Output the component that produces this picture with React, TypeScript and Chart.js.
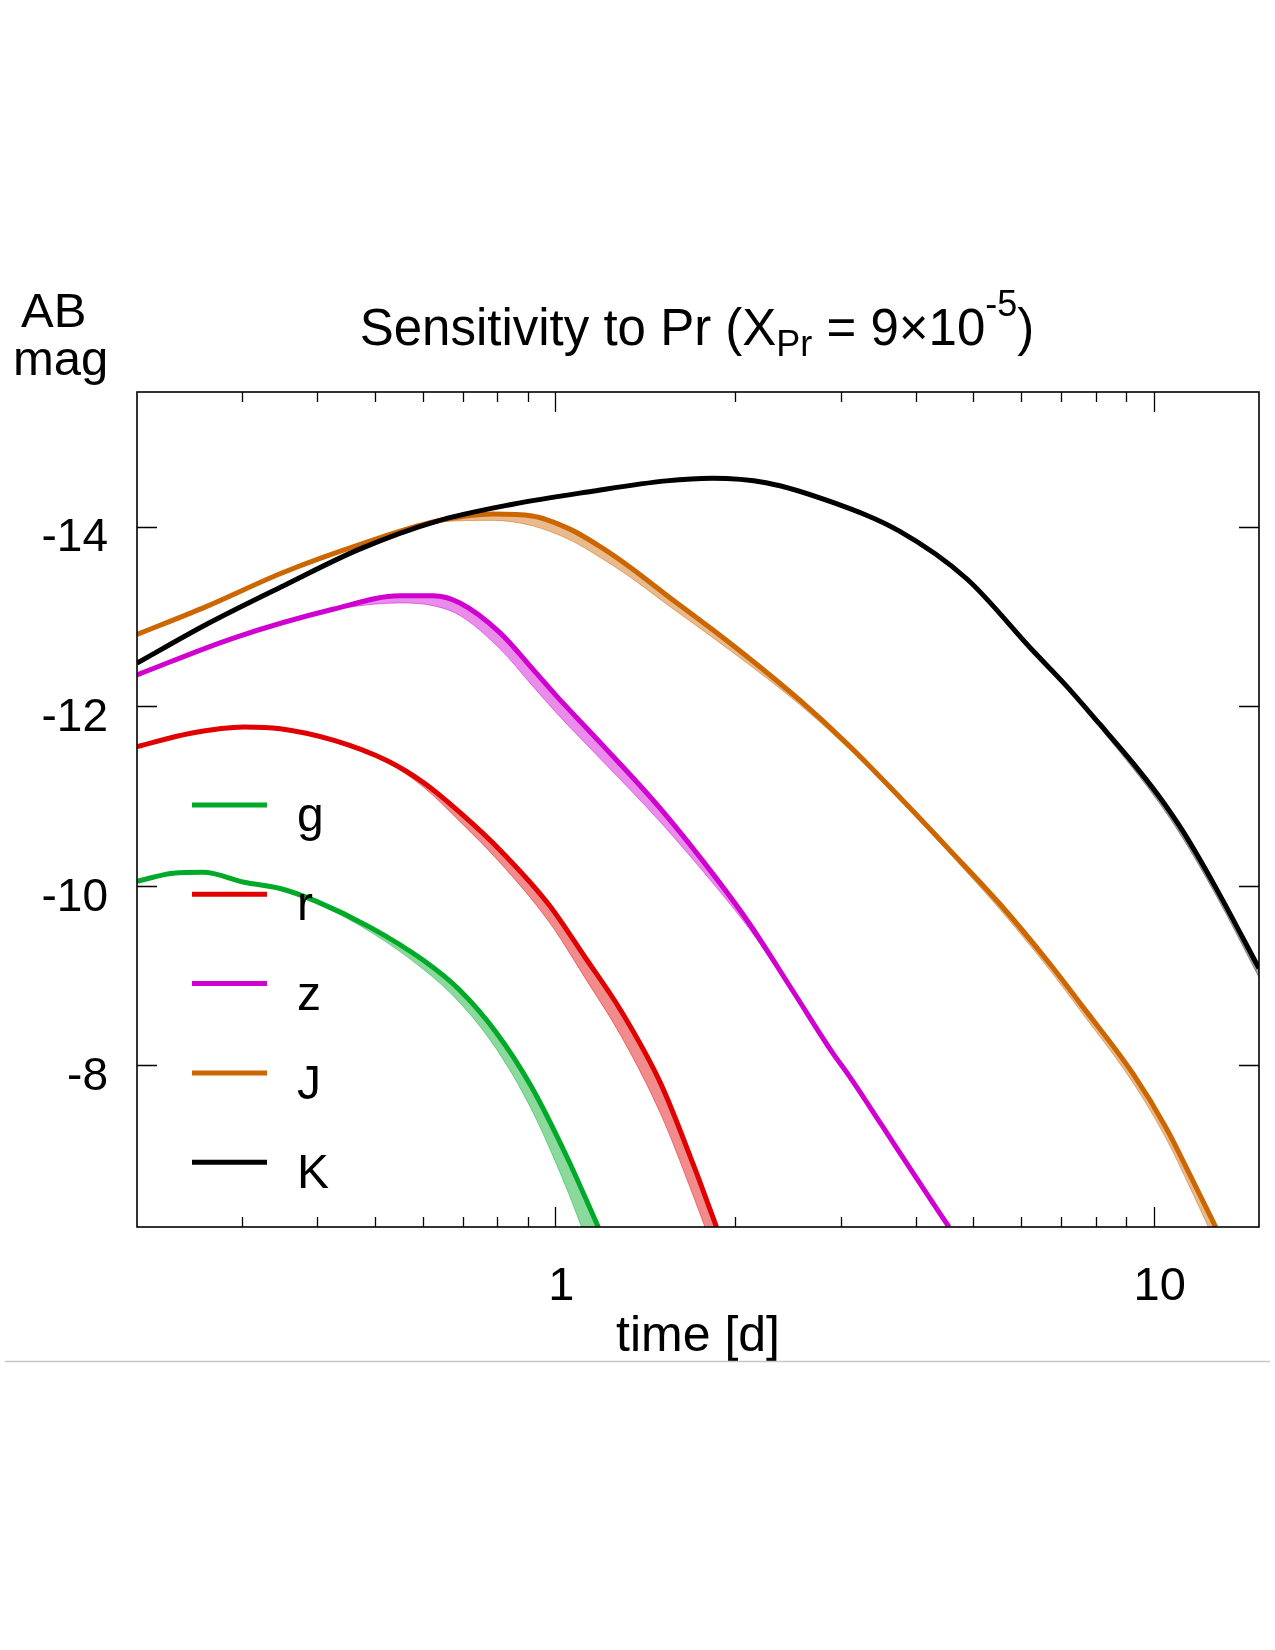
import React, { useEffect, useRef } from 'react';
import { Chart, registerables } from 'chart.js';

Chart.register(...registerables);

const FONT = '"Liberation Sans", Arial, Helvetica, sans-serif';

// ---- data (time in days, AB magnitude) ----
const gTime = [0.2, 0.23, 0.258, 0.302, 0.347, 0.398, 0.49, 0.602, 0.692, 0.794, 0.911, 1.046, 1.18];
const gMag = [-10.05, -10.14, -10.15, -10.04, -9.97, -9.83, -9.54, -9.17, -8.84, -8.38, -7.77, -6.98, -6.2];
const gFaint = [-10.05, -10.14, -10.15, -10.04, -9.96, -9.81, -9.49, -9.07, -8.7, -8.2, -7.52, -6.62, -5.7];

const rTime = [0.2, 0.246, 0.302, 0.347, 0.427, 0.525, 0.602, 0.692, 0.808, 0.976, 1.12, 1.29, 1.5, 1.7, 1.86];
const rMag = [-11.55, -11.7, -11.77, -11.75, -11.62, -11.39, -11.15, -10.82, -10.4, -9.79, -9.21, -8.6, -7.8, -6.9, -6.2];
const rFaint = [-11.55, -11.7, -11.77, -11.75, -11.62, -11.37, -11.1, -10.72, -10.26, -9.6, -8.98, -8.32, -7.46, -6.55, -5.85];

const zTime = [0.2, 0.29, 0.425, 0.55, 0.625, 0.693, 0.808, 0.918, 1.0, 1.187, 1.494, 1.86, 2.11, 2.5, 2.9, 3.1, 3.5, 4.0, 4.55];
const zMag = [-12.35, -12.76, -13.08, -13.23, -13.23, -13.15, -12.82, -12.41, -12.13, -11.6, -10.87, -10.08, -9.58, -8.82, -8.15, -7.88, -7.35, -6.76, -6.2];
const zFaint = [-12.35, -12.76, -13.07, -13.15, -13.12, -13.01, -12.64, -12.22, -11.94, -11.42, -10.72, -9.98, -9.52, -8.8, -8.15, -7.88, -7.35, -6.76, -6.2];

const jTime = [0.2, 0.261, 0.351, 0.471, 0.633, 0.789, 0.915, 1.06, 1.187, 1.32, 1.533, 1.98, 2.56, 3.1, 3.71, 4.56, 5.53, 6.69, 7.6, 9.23, 10.5, 11.5, 12.7];
const jMag = [-12.8, -13.11, -13.49, -13.8, -14.06, -14.14, -14.12, -13.97, -13.78, -13.57, -13.24, -12.68, -12.07, -11.56, -11.03, -10.4, -9.8, -9.14, -8.66, -7.91, -7.3, -6.78, -6.2];
const jFaint = [-12.8, -13.11, -13.49, -13.8, -14.05, -14.07, -14.01, -13.85, -13.66, -13.46, -13.14, -12.6, -12.02, -11.52, -11.0, -10.36, -9.74, -9.07, -8.58, -7.81, -7.18, -6.64, -6.02];

const kTime = [0.2, 0.261, 0.351, 0.471, 0.633, 0.849, 1.141, 1.532, 1.83, 2.25, 2.91, 3.76, 4.87, 6.28, 7.14, 8.13, 9.23, 10.2, 11.21, 12.7, 15];
const kMag = [-12.48, -12.91, -13.34, -13.75, -14.06, -14.25, -14.39, -14.51, -14.54, -14.49, -14.27, -13.95, -13.42, -12.62, -12.23, -11.8, -11.37, -11.0, -10.6, -9.98, -9.08];
const kFaint = [-12.48, -12.91, -13.34, -13.75, -14.06, -14.25, -14.39, -14.51, -14.54, -14.49, -14.27, -13.95, -13.42, -12.62, -12.21, -11.76, -11.31, -10.93, -10.52, -9.9, -8.98];

const seriesNames = ['g', 'r', 'z', 'J', 'K'];
const seriesTimes = [gTime, rTime, zTime, jTime, kTime];
const seriesMags = [gMag, rMag, zMag, jMag, kMag];
const seriesFaint = [gFaint, rFaint, zFaint, jFaint, kFaint];
const seriesColors = ['#00aa28', '#e00000', '#d000d0', '#cc6600', '#000000'];
const bandColors = ['rgba(0,170,40,0.45)', 'rgba(224,0,0,0.45)', 'rgba(208,0,208,0.45)', 'rgba(204,102,0,0.45)', 'rgba(0,0,0,0.35)'];
const drawOrder = [5, 4, 3, 2, 1];

const xTickValues = [1, 10];
const xTickLabels = ['1', '10'];
const xMinorTickValues = [0.3, 0.4, 0.5, 0.6, 0.7, 0.8, 0.9, 2, 3, 4, 5, 6, 7, 8, 9];
const yTickValues = [-14, -12, -10, -8];
const yTickLabels = ['-14', '-12', '-10', '-8'];
const X_MIN = 0.2;
const X_MAX = 15;
const Y_MIN = -15.5;
const Y_MAX = -6.2;

const titleParts = [
  { text: 'Sensitivity to Pr (X', kind: 'normal' },
  { text: 'Pr', kind: 'sub' },
  { text: ' = 9\u00d710', kind: 'normal' },
  { text: '-5', kind: 'sup' },
  { text: ')', kind: 'normal' },
];
const yAxisLabelLines = ['AB', 'mag'];
const xAxisLabel = 'time [d]';

const decorPlugin = {
  id: 'decor',
  afterDraw(chart: any) {
    const { ctx, chartArea: a } = chart;
    const xs = chart.scales.x;
    const ys = chart.scales.y;
    ctx.save();
    // frame
    ctx.strokeStyle = '#000';
    ctx.lineWidth = 1.6;
    ctx.strokeRect(a.left, a.top, a.right - a.left, a.bottom - a.top);
    ctx.beginPath();
    for (const v of yTickValues) {
      const p = Math.round(ys.getPixelForValue(v)) + 0.5;
      ctx.moveTo(a.left, p); ctx.lineTo(a.left + 20, p);
      ctx.moveTo(a.right, p); ctx.lineTo(a.right - 20, p);
    }
    for (const v of xTickValues) {
      const p = Math.round(xs.getPixelForValue(v)) + 0.5;
      ctx.moveTo(p, a.bottom); ctx.lineTo(p, a.bottom - 20);
      ctx.moveTo(p, a.top); ctx.lineTo(p, a.top + 20);
    }
    for (const v of xMinorTickValues) {
      const p = Math.round(xs.getPixelForValue(v)) + 0.5;
      ctx.moveTo(p, a.bottom); ctx.lineTo(p, a.bottom - 10);
      ctx.moveTo(p, a.top); ctx.lineTo(p, a.top + 10);
    }
    ctx.lineWidth = 1.3;
    ctx.stroke();

    // legend
    const legX0 = 192, legX1 = 267, legTop = 805, legStep = 89.3;
    ctx.font = `48px ${FONT}`;
    ctx.textAlign = 'left';
    ctx.textBaseline = 'alphabetic';
    seriesNames.forEach((n, i) => {
      const ly = legTop + i * legStep;
      ctx.strokeStyle = seriesColors[i];
      ctx.lineWidth = 5;
      ctx.beginPath();
      ctx.moveTo(legX0, ly); ctx.lineTo(legX1, ly);
      ctx.stroke();
      ctx.fillStyle = '#000';
      ctx.fillText(n, 297, ly + 26);
    });

    // title with sub/superscript
    const sizeOf = (k: string) => (k === 'normal' ? 51 : 36);
    const dyOf = (k: string) => (k === 'sub' ? 11 : k === 'sup' ? -29 : 0);
    let total = 0;
    for (const p of titleParts) {
      ctx.font = `${sizeOf(p.kind)}px ${FONT}`;
      total += ctx.measureText(p.text).width;
    }
    let tx = 697 - total / 2;
    ctx.fillStyle = '#000';
    for (const p of titleParts) {
      ctx.font = `${sizeOf(p.kind)}px ${FONT}`;
      ctx.fillText(p.text, tx, 345 + dyOf(p.kind));
      tx += ctx.measureText(p.text).width;
    }

    // y axis label (horizontal, top-left)
    ctx.font = `49px ${FONT}`;
    ctx.fillText(yAxisLabelLines[0], 21, 327);
    ctx.fillText(yAxisLabelLines[1], 13, 375);

    // gray rule below the figure
    ctx.strokeStyle = '#c8c8c8';
    ctx.lineWidth = 1.5;
    ctx.beginPath();
    ctx.moveTo(5, 1361.5); ctx.lineTo(1270, 1361.5);
    ctx.stroke();
    ctx.restore();
  },
};

export default function App() {
  const ref = useRef<HTMLCanvasElement>(null);
  useEffect(() => {
    const canvas = ref.current;
    if (!canvas) return;
    const toPts = (ts: number[], ms: number[]) => ts.map((t, i) => ({ x: t, y: ms[i] }));
    const n = seriesNames.length;
    const bands = seriesNames.map((name, i) => ({
      label: name + ' range',
      data: toPts(seriesTimes[i], seriesFaint[i]),
      borderColor: bandColors[i],
      backgroundColor: bandColors[i],
      borderWidth: 1,
      pointRadius: 0,
      fill: { target: i + n },
      cubicInterpolationMode: 'monotone',
      order: 10 + i,
      clip: 0,
    }));
    const lines = seriesNames.map((name, i) => ({
      label: name,
      data: toPts(seriesTimes[i], seriesMags[i]),
      borderColor: seriesColors[i],
      backgroundColor: seriesColors[i],
      borderWidth: 5,
      pointRadius: 0,
      fill: false,
      cubicInterpolationMode: 'monotone',
      borderJoinStyle: 'round',
      order: drawOrder[i],
      clip: 0,
    }));
    const chart = new Chart(canvas, {
      type: 'line',
      data: { datasets: [...bands, ...lines] as any },
      options: {
        responsive: false,
        animation: false,
        devicePixelRatio: 1,
        events: [],
        layout: { padding: { left: 17, right: 16, top: 392, bottom: 273 } },
        plugins: {
          legend: { display: false },
          tooltip: { enabled: false },
          title: { display: false },
        },
        scales: {
          x: {
            type: 'logarithmic',
            position: 'bottom',
            min: X_MIN,
            max: X_MAX,
            afterBuildTicks: (s: any) => {
              s.ticks = xTickValues.map((v) => ({ value: v }));
            },
            afterFit: (s: any) => {
              s.height = 150;
            },
            grid: { display: false, drawTicks: false },
            border: { display: false },
            ticks: {
              autoSkip: false,
              maxRotation: 0,
              minRotation: 0,
              padding: 32,
              labelOffset: 6,
              color: '#000',
              font: { family: FONT, size: 47 },
              callback: (v: any) => {
                const k = xTickValues.indexOf(Number(v));
                return k >= 0 ? xTickLabels[k] : '';
              },
            },
            title: {
              display: true,
              text: xAxisLabel,
              color: '#000',
              font: { family: FONT, size: 50 },
              padding: { top: 0, bottom: 10 },
            },
          },
          y: {
            type: 'linear',
            position: 'left',
            reverse: true,
            min: Y_MIN,
            max: Y_MAX,
            afterBuildTicks: (s: any) => {
              s.ticks = yTickValues.map((v) => ({ value: v }));
            },
            afterFit: (s: any) => {
              s.width = 120;
            },
            grid: { display: false, drawTicks: false },
            border: { display: false },
            ticks: {
              padding: 29,
              labelOffset: 12,
              color: '#000',
              font: { family: FONT, size: 46 },
              callback: (v: any) => {
                const k = yTickValues.indexOf(Number(v));
                return k >= 0 ? yTickLabels[k] : '';
              },
            },
          },
        },
      } as any,
      plugins: [decorPlugin],
    });
    return () => chart.destroy();
  }, []);
  return (
    <div style={{ position: 'absolute', left: 0, top: 0, width: 1275, height: 1650, background: '#fff' }}>
      <canvas ref={ref} width={1275} height={1650} style={{ display: 'block', width: 1275, height: 1650 }} />
    </div>
  );
}
